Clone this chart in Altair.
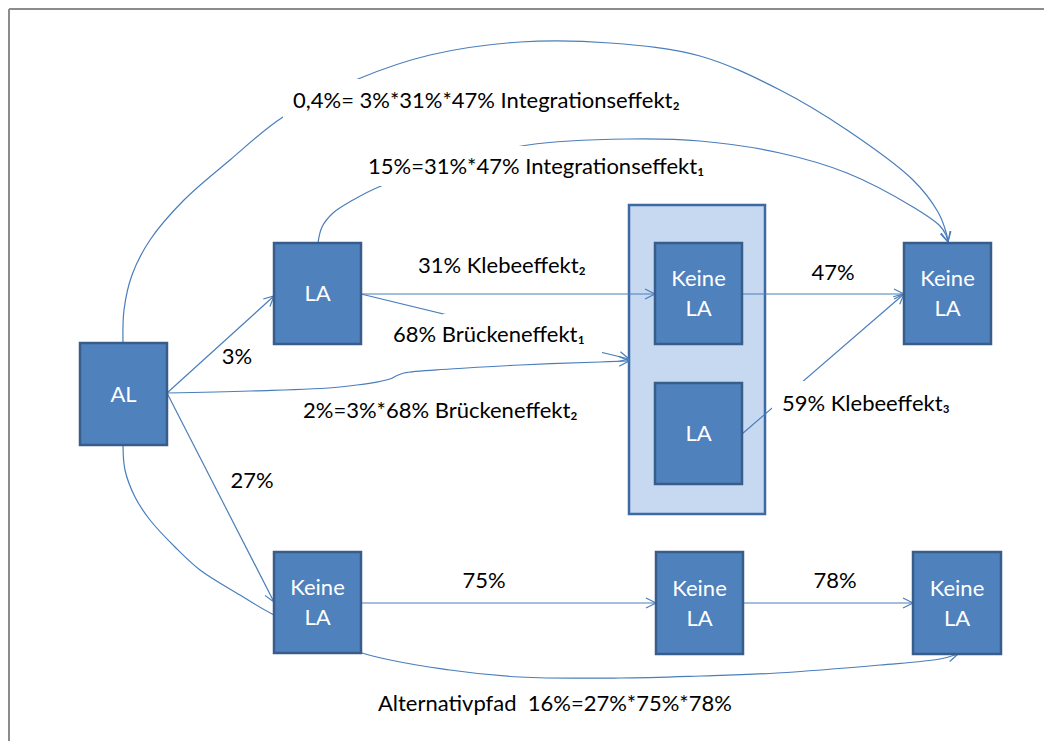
import math
import altair as alt
import pandas as pd

# ---------------- data (page-pixel coordinates) -------------
box_names = ["AL", "LA1", "K1", "LA2", "K2", "K3", "K4", "K5"]
box_x1 = [80, 274, 655, 655, 904, 274, 656, 913]
box_x2 = [167, 361, 742, 742, 991, 361, 743, 1001]
box_y1 = [343, 243, 243, 383, 243, 552, 552, 552]
box_y2 = [445, 344, 344, 484, 344, 653, 654, 654]
box_text = ["AL", "LA", "Keine\nLA", "LA", "Keine\nLA", "Keine\nLA", "Keine\nLA", "Keine\nLA"]

cont_x1, cont_x2, cont_y1, cont_y2 = [629], [765], [205], [514]

# edges as waypoint lists
edge_ids = ["int2", "int1", "br2", "alt", "a3", "a27", "kl2", "b1", "p47", "kl3", "p75", "p78"]
edge_xs = {
    "int2": [123, 124, 132, 150, 184, 230, 283, 358, 430, 520, 610, 700, 780, 847, 913, 938, 946, 948],
    "int1": [318, 322, 333, 353, 381, 450, 528, 627, 700, 780, 847, 913, 940, 946, 948],
    "br2": [167, 250, 340, 390, 396, 404, 450, 520, 600, 629],
    "alt": [123, 125, 135, 150, 175, 200, 240, 274, 362, 450, 520, 620, 700, 777, 880, 940, 958],
    "a3": [167, 274],
    "a27": [167, 274],
    "kl2": [361, 655],
    "b1": [361, 629],
    "p47": [742, 904],
    "kl3": [742, 904],
    "p75": [362, 656],
    "p78": [743, 913],
}
edge_ys = {
    "int2": [343, 310, 275, 240, 200, 160, 117, 79, 55, 42, 43, 56, 90, 130, 180, 212, 232, 242],
    "int1": [243, 227, 213, 200, 186, 163, 145, 139, 141, 153, 173, 207, 226, 235, 242],
    "br2": [393, 391, 387, 379, 376, 373, 369, 365, 362, 361],
    "alt": [445, 470, 497, 520, 547, 570, 595, 615, 653, 670, 677, 678, 676, 673, 665, 659, 654],
    "a3": [393, 296],
    "a27": [393, 602],
    "kl2": [294, 294],
    "b1": [294, 359],
    "p47": [294, 294],
    "kl3": [434, 294],
    "p75": [603, 603],
    "p78": [603, 603],
}

# white text-box backgrounds that hide the connectors behind labels
mask_x1 = [283, 370, 443, 772]
mask_x2 = [705, 725, 602, 960]
mask_y1 = [79, 146, 314, 381]
mask_y2 = [120, 186, 357, 425]

label_text = [
    "0,4%= 3%*31%*47% Integrationseffekt₂",
    "15%=31%*47% Integrationseffekt₁",
    "31% Klebeeffekt₂",
    "47%",
    "68% Brückeneffekt₁",
    "3%",
    "2%=3%*68% Brückeneffekt₂",
    "59% Klebeeffekt₃",
    "27%",
    "75%",
    "78%",
    "Alternativpfad\u00a0 16%=27%*75%*78%",
]
label_x = [293, 368, 418, 833, 393, 237, 303, 782, 252, 484, 835, 378]
label_y = [108, 174, 273, 280, 342, 364, 418, 411, 488, 588, 588, 711]
label_align = ["left", "left", "left", "center", "left", "center", "left", "left",
               "center", "center", "center", "left"]

frame_x1 = [9, 9]
frame_x2 = [1052, 9]
frame_y1 = [9, 9]
frame_y2 = [9, 749]

# ---------------- tables ----------------
LINE = "#4A7EBB"
FILL = "#4F81BD"
STROKE = "#385D8A"

rows = []
heads = []
for eid in edge_ids:
    xs, ys = edge_xs[eid], edge_ys[eid]
    for i, (a, b) in enumerate(zip(xs, ys)):
        rows.append({"id": eid, "o": i, "x": a, "y": b})
    ang = math.degrees(math.atan2(ys[-1] - ys[-2], xs[-1] - xs[-2])) % 360
    heads.append({"x": xs[-1], "y": ys[-1], "ang": ang})
edges_df = pd.DataFrame(rows)
heads_df = pd.DataFrame(heads)

boxes_df = pd.DataFrame({"name": box_names, "x": box_x1, "x2": box_x2,
                         "y": box_y1, "y2": box_y2, "t": box_text})
boxes_df["cx"] = (boxes_df["x"] + boxes_df["x2"]) / 2
cy = (boxes_df["y"] + boxes_df["y2"]) / 2
boxes_df["ty"] = [c - 7.5 if "\n" in t else c + 7.5 for c, t in zip(cy, boxes_df["t"])]

cont_df = pd.DataFrame({"x": cont_x1, "x2": cont_x2, "y": cont_y1, "y2": cont_y2})
mask_df = pd.DataFrame({"x": mask_x1, "x2": mask_x2, "y": mask_y1, "y2": mask_y2})
labels_df = pd.DataFrame({"t": label_text, "x": label_x, "y": label_y, "al": label_align})
frame_df = pd.DataFrame({"x": frame_x1, "x2": frame_x2, "y": frame_y1, "y2": frame_y2})

# ---------------- chart ----------------
W, H = 1036, 733
xs_ = alt.Scale(domain=[8, 8 + W], nice=False, zero=False)
ys_ = alt.Scale(domain=[8, 8 + H], nice=False, zero=False, reverse=True)


def X(f="x"):
    return alt.X(f"{f}:Q", scale=xs_, axis=None)


def Y(f="y"):
    return alt.Y(f"{f}:Q", scale=ys_, axis=None)


frame = alt.Chart(frame_df).mark_rule(color="#8c8c8c", strokeWidth=2).encode(
    x=X(), x2="x2:Q", y=Y(), y2="y2:Q")

container = alt.Chart(cont_df).mark_rect(fill="#C6D9F1", stroke="#3E6AA3", strokeWidth=2.5).encode(
    x=X(), x2="x2:Q", y=Y(), y2="y2:Q")

lines = alt.Chart(edges_df).mark_line(color=LINE, strokeWidth=1.2, interpolate="catmull-rom").encode(
    x=X(), y=Y(), detail="id:N", order="o:Q")

masks = alt.Chart(mask_df).mark_rect(fill="white").encode(
    x=X(), x2="x2:Q", y=Y(), y2="y2:Q")

arrowheads = alt.Chart(heads_df).mark_point(
    shape="M -1 -0.5 L 0 0 L -1 0.5", filled=False, size=400, color=LINE, strokeWidth=1.2, opacity=1
).encode(x=X(), y=Y(), angle=alt.Angle("ang:Q", scale=None))

boxes = alt.Chart(boxes_df).mark_rect(fill=FILL, stroke=STROKE, strokeWidth=2.5).encode(
    x=X(), x2="x2:Q", y=Y(), y2="y2:Q")

box_labels = alt.Chart(boxes_df).mark_text(
    font="Lato", fontSize=22, color="white", align="center", baseline="alphabetic",
    lineBreak="\n", lineHeight=30
).encode(x=X("cx"), y=Y("ty"), text="t:N")

lab_left = alt.Chart(labels_df).transform_filter(alt.datum.al == "left").mark_text(
    font="Lato", fontSize=22, color="black", align="left", baseline="alphabetic"
).encode(x=X(), y=Y(), text="t:N")

lab_center = alt.Chart(labels_df).transform_filter(alt.datum.al == "center").mark_text(
    font="Lato", fontSize=22, color="black", align="center", baseline="alphabetic"
).encode(x=X(), y=Y(), text="t:N")

chart = alt.layer(
    frame, container, lines, masks, arrowheads, boxes, box_labels, lab_left, lab_center
).properties(
    width=W, height=H, padding=0, background="white",
    autosize=alt.AutoSizeParams(type="none"),
).configure_view(stroke=None)

chart.save("out.html", embed_options={"renderer": "svg", "actions": False})
